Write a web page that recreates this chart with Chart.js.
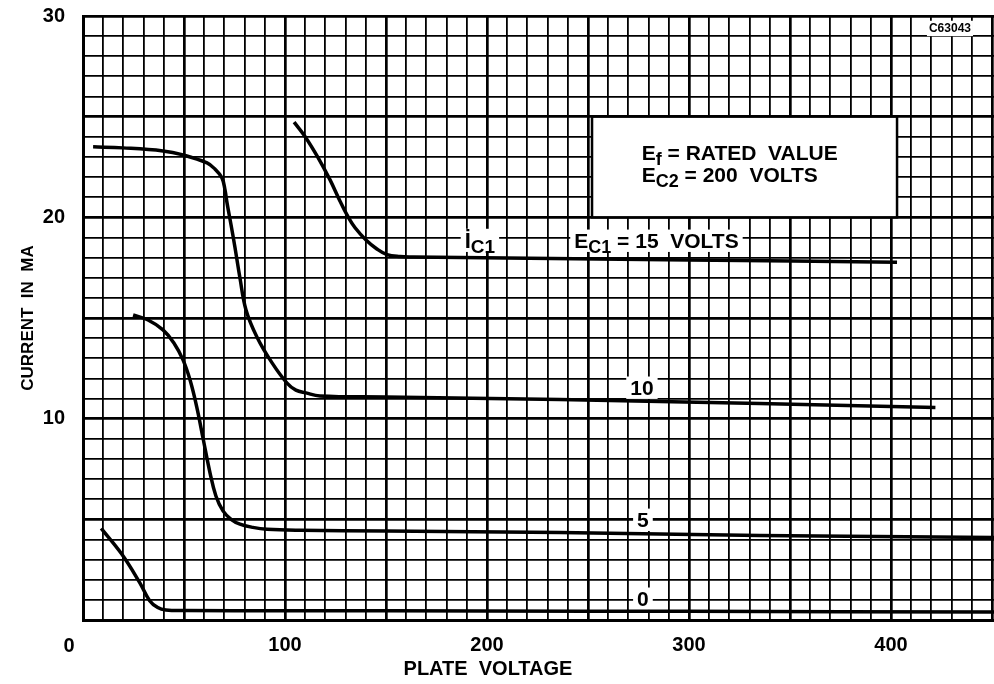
<!DOCTYPE html>
<html>
<head>
<meta charset="utf-8">
<title>Grid current characteristics</title>
<script src="https://cdn.jsdelivr.net/npm/chart.js@4.4.1/dist/chart.umd.min.js"></script>
<style>
  html, body { margin: 0; padding: 0; background: #fff; }
  #wrap { width: 994px; height: 684px; }
</style>
</head>
<body>
<div id="wrap"><canvas id="chart1" width="994" height="684"></canvas></div>
<script>
(function(){
  'use strict';

  // plate voltage (V) and grid current (mA)
  var ec0Volts = [9, 19, 28, 33, 37, 41, 50, 100, 200, 300, 451];
  var ec0Amps  = [4.55, 3.3, 1.87, 0.96, 0.62, 0.5, 0.47, 0.46, 0.45, 0.43, 0.4];

  var ec5Volts = [24.8, 32.2, 39.6, 45, 49.5, 53, 56.3, 59.6, 62.9, 65.8, 69.3, 73.3, 77.7, 84.1, 91.1, 107.4, 150, 236, 335, 451];
  var ec5Amps  = [15.15, 14.9, 14.41, 13.76, 12.92, 11.92, 10.59, 8.94, 7.3, 6.16, 5.42, 5.0, 4.76, 4.6, 4.51, 4.46, 4.42, 4.34, 4.2, 4.1];

  var ec10Volts = [5, 19.8, 39.6, 49.5, 61.4, 65.3, 68.8, 70.3, 71.3, 73.3, 75.2, 77.7, 80.7, 86.1, 93.6, 101, 105.4, 110.4, 117.3, 150, 236, 335, 422];
  var ec10Amps  = [23.5, 23.45, 23.3, 23.1, 22.7, 22.4, 21.96, 21.36, 20.72, 19.62, 18.53, 16.99, 15.4, 14.06, 12.77, 11.77, 11.42, 11.28, 11.13, 11.08, 10.95, 10.75, 10.55];

  var ec15Volts = [104.5, 109.9, 116.3, 122.3, 127.2, 130.7, 134.7, 140.1, 145.5, 150.5, 156.9, 163.4, 187, 300, 403];
  var ec15Amps  = [24.73, 24.02, 22.98, 21.86, 20.81, 20.12, 19.48, 18.88, 18.43, 18.15, 18.05, 18.03, 18.0, 17.88, 17.77];

  var gridBias = ['0', '5', '10', '15'];
  var xTickLabels = [100, 200, 300, 400];
  var yTickLabels = [10, 20, 30];

  var FONT = '"Liberation Sans", Arial, sans-serif';

  function toPoints(xs, ys) {
    return xs.map(function(v, i) { return { x: v, y: ys[i] }; });
  }

  function curve(label, xs, ys) {
    return {
      label: label,
      data: toPoints(xs, ys),
      borderColor: '#000',
      borderWidth: 3.5,
      pointRadius: 0,
      fill: false,
      tension: 0.4
    };
  }

  // keep the plot box exactly where the layout padding puts it
  function noEdgePadding(scale) {
    scale.paddingTop = 0;
    scale.paddingBottom = 0;
    scale.paddingLeft = 0;
    scale.paddingRight = 0;
  }

  // text with optional subscript parts: [[text, isSub], ...]
  function drawParts(ctx, parts, px, py, size, align, pad) {
    var big = 'bold ' + size + 'px ' + FONT;
    var small = 'bold ' + Math.round(size * 0.85) + 'px ' + FONT;
    var widths = parts.map(function(p) {
      ctx.font = p[1] ? small : big;
      return ctx.measureText(p[0]).width;
    });
    var total = widths.reduce(function(a, b) { return a + b; }, 0);
    var left = align === 'center' ? px - total / 2 : px;
    if (pad !== undefined) {
      ctx.fillStyle = '#fff';
      ctx.fillRect(left - pad, py - size * 0.78 - 2, total + pad * 2, size * 0.78 + 6);
    }
    ctx.fillStyle = '#000';
    ctx.textAlign = 'left';
    ctx.textBaseline = 'alphabetic';
    var cx = left;
    parts.forEach(function(p, i) {
      ctx.font = p[1] ? small : big;
      ctx.fillText(p[0], cx, p[1] ? py + size * 0.25 : py);
      cx += widths[i];
    });
  }

  var notesPlugin = {
    id: 'notes',
    beforeDatasetsDraw: function(chart) {
      var ctx = chart.ctx;
      var xs = chart.scales.x, ys = chart.scales.y;
      ctx.save();

      // operating conditions box
      var bl = xs.getPixelForValue(252), br = xs.getPixelForValue(403);
      var bt = ys.getPixelForValue(25), bb = ys.getPixelForValue(20);
      ctx.fillStyle = '#fff';
      ctx.fillRect(bl, bt, br - bl, bb - bt);
      ctx.lineWidth = 2.5;
      ctx.strokeStyle = '#000';
      ctx.strokeRect(bl, bt, br - bl, bb - bt);
      drawParts(ctx, [['E'], ['f', 1], [' = RATED  VALUE']],
        xs.getPixelForValue(276.6), ys.getPixelForValue(22.85), 21, 'left');
      drawParts(ctx, [['E'], ['C2', 1], [' = 200  VOLTS']],
        xs.getPixelForValue(276.6), ys.getPixelForValue(21.76), 21, 'left');

      // curve labels
      drawParts(ctx, [['\u0130'], ['C1', 1]],
        xs.getPixelForValue(196.5), ys.getPixelForValue(18.48), 22, 'center', 4);
      drawParts(ctx, [['E'], ['C1', 1], [' = ' + gridBias[3] + '  VOLTS']],
        xs.getPixelForValue(283.9), ys.getPixelForValue(18.48), 21, 'center', 4);
      drawParts(ctx, [[gridBias[2]]], xs.getPixelForValue(276.7), ys.getPixelForValue(11.18), 21, 'center', 4);
      drawParts(ctx, [[gridBias[1]]], xs.getPixelForValue(277.2), ys.getPixelForValue(4.62), 21, 'center', 4);
      drawParts(ctx, [[gridBias[0]]], xs.getPixelForValue(277.2), ys.getPixelForValue(0.7), 21, 'center', 4);

      drawParts(ctx, [['C63043']], xs.getPixelForValue(429.2), ys.getPixelForValue(29.2), 12, 'center', 2);
      ctx.restore();
    },
    afterDraw: function(chart) {
      var ctx = chart.ctx;
      var xs = chart.scales.x;
      ctx.save();
      ctx.fillStyle = '#000';
      ctx.textAlign = 'center';
      ctx.textBaseline = 'middle';
      ctx.font = 'bold 20px ' + FONT;
      ctx.fillText('0', xs.getPixelForValue(0) - 14, 646);
      ctx.fillText('PLATE  VOLTAGE', 488, 669);
      ctx.restore();
    }
  };

  var c1 = document.getElementById('chart1');

  var chart1 = new Chart(c1, {
    type: 'line',
    data: {
      datasets: [
        curve('Ec1 = 0', ec0Volts, ec0Amps),
        curve('Ec1 = 5', ec5Volts, ec5Amps),
        curve('Ec1 = 10', ec10Volts, ec10Amps),
        curve('Ec1 = 15', ec15Volts, ec15Amps)
      ]
    },
    options: {
      responsive: false,
      animation: false,
      devicePixelRatio: 1,
      layout: { padding: { top: 16, right: 0, left: 0, bottom: 0 } },
      plugins: {
        legend: { display: false },
        tooltip: { enabled: false }
      },
      scales: {
        x: {
          type: 'linear',
          min: 0,
          max: 451,
          afterFit: function(scale) { scale.height = 64; noEdgePadding(scale); },
          border: { color: '#000', width: 3 },
          grid: {
            color: '#000',
            drawTicks: false,
            lineWidth: function(c) { return c.tick && c.tick.value % 50 === 0 ? 2.7 : 1.8; }
          },
          ticks: {
            stepSize: 10,
            autoSkip: false,
            includeBounds: false,
            maxRotation: 0,
            padding: 13,
            color: '#000',
            font: { family: FONT, size: 20, weight: 'bold' },
            callback: function(v) { return xTickLabels.indexOf(v) >= 0 ? String(v) : ''; }
          }
        },
        y: {
          type: 'linear',
          min: 0,
          max: 30,
          afterFit: function(scale) { scale.width = 83; noEdgePadding(scale); },
          border: { color: '#000', width: 3 },
          grid: {
            color: '#000',
            drawTicks: false,
            lineWidth: function(c) { return c.tick && c.tick.value % 5 === 0 ? 2.7 : 1.8; }
          },
          ticks: {
            stepSize: 1,
            autoSkip: false,
            padding: 18,
            color: '#000',
            font: { family: FONT, size: 20, weight: 'bold' },
            callback: function(v) { return yTickLabels.indexOf(v) >= 0 ? String(v) : ''; }
          },
          title: {
            display: true,
            text: 'CURRENT  IN  MA',
            color: '#000',
            padding: { top: 18, bottom: 0 },
            font: { family: FONT, size: 17, weight: 'bold' }
          }
        }
      }
    },
    plugins: [notesPlugin]
  });

}());
</script>
</body>
</html>
